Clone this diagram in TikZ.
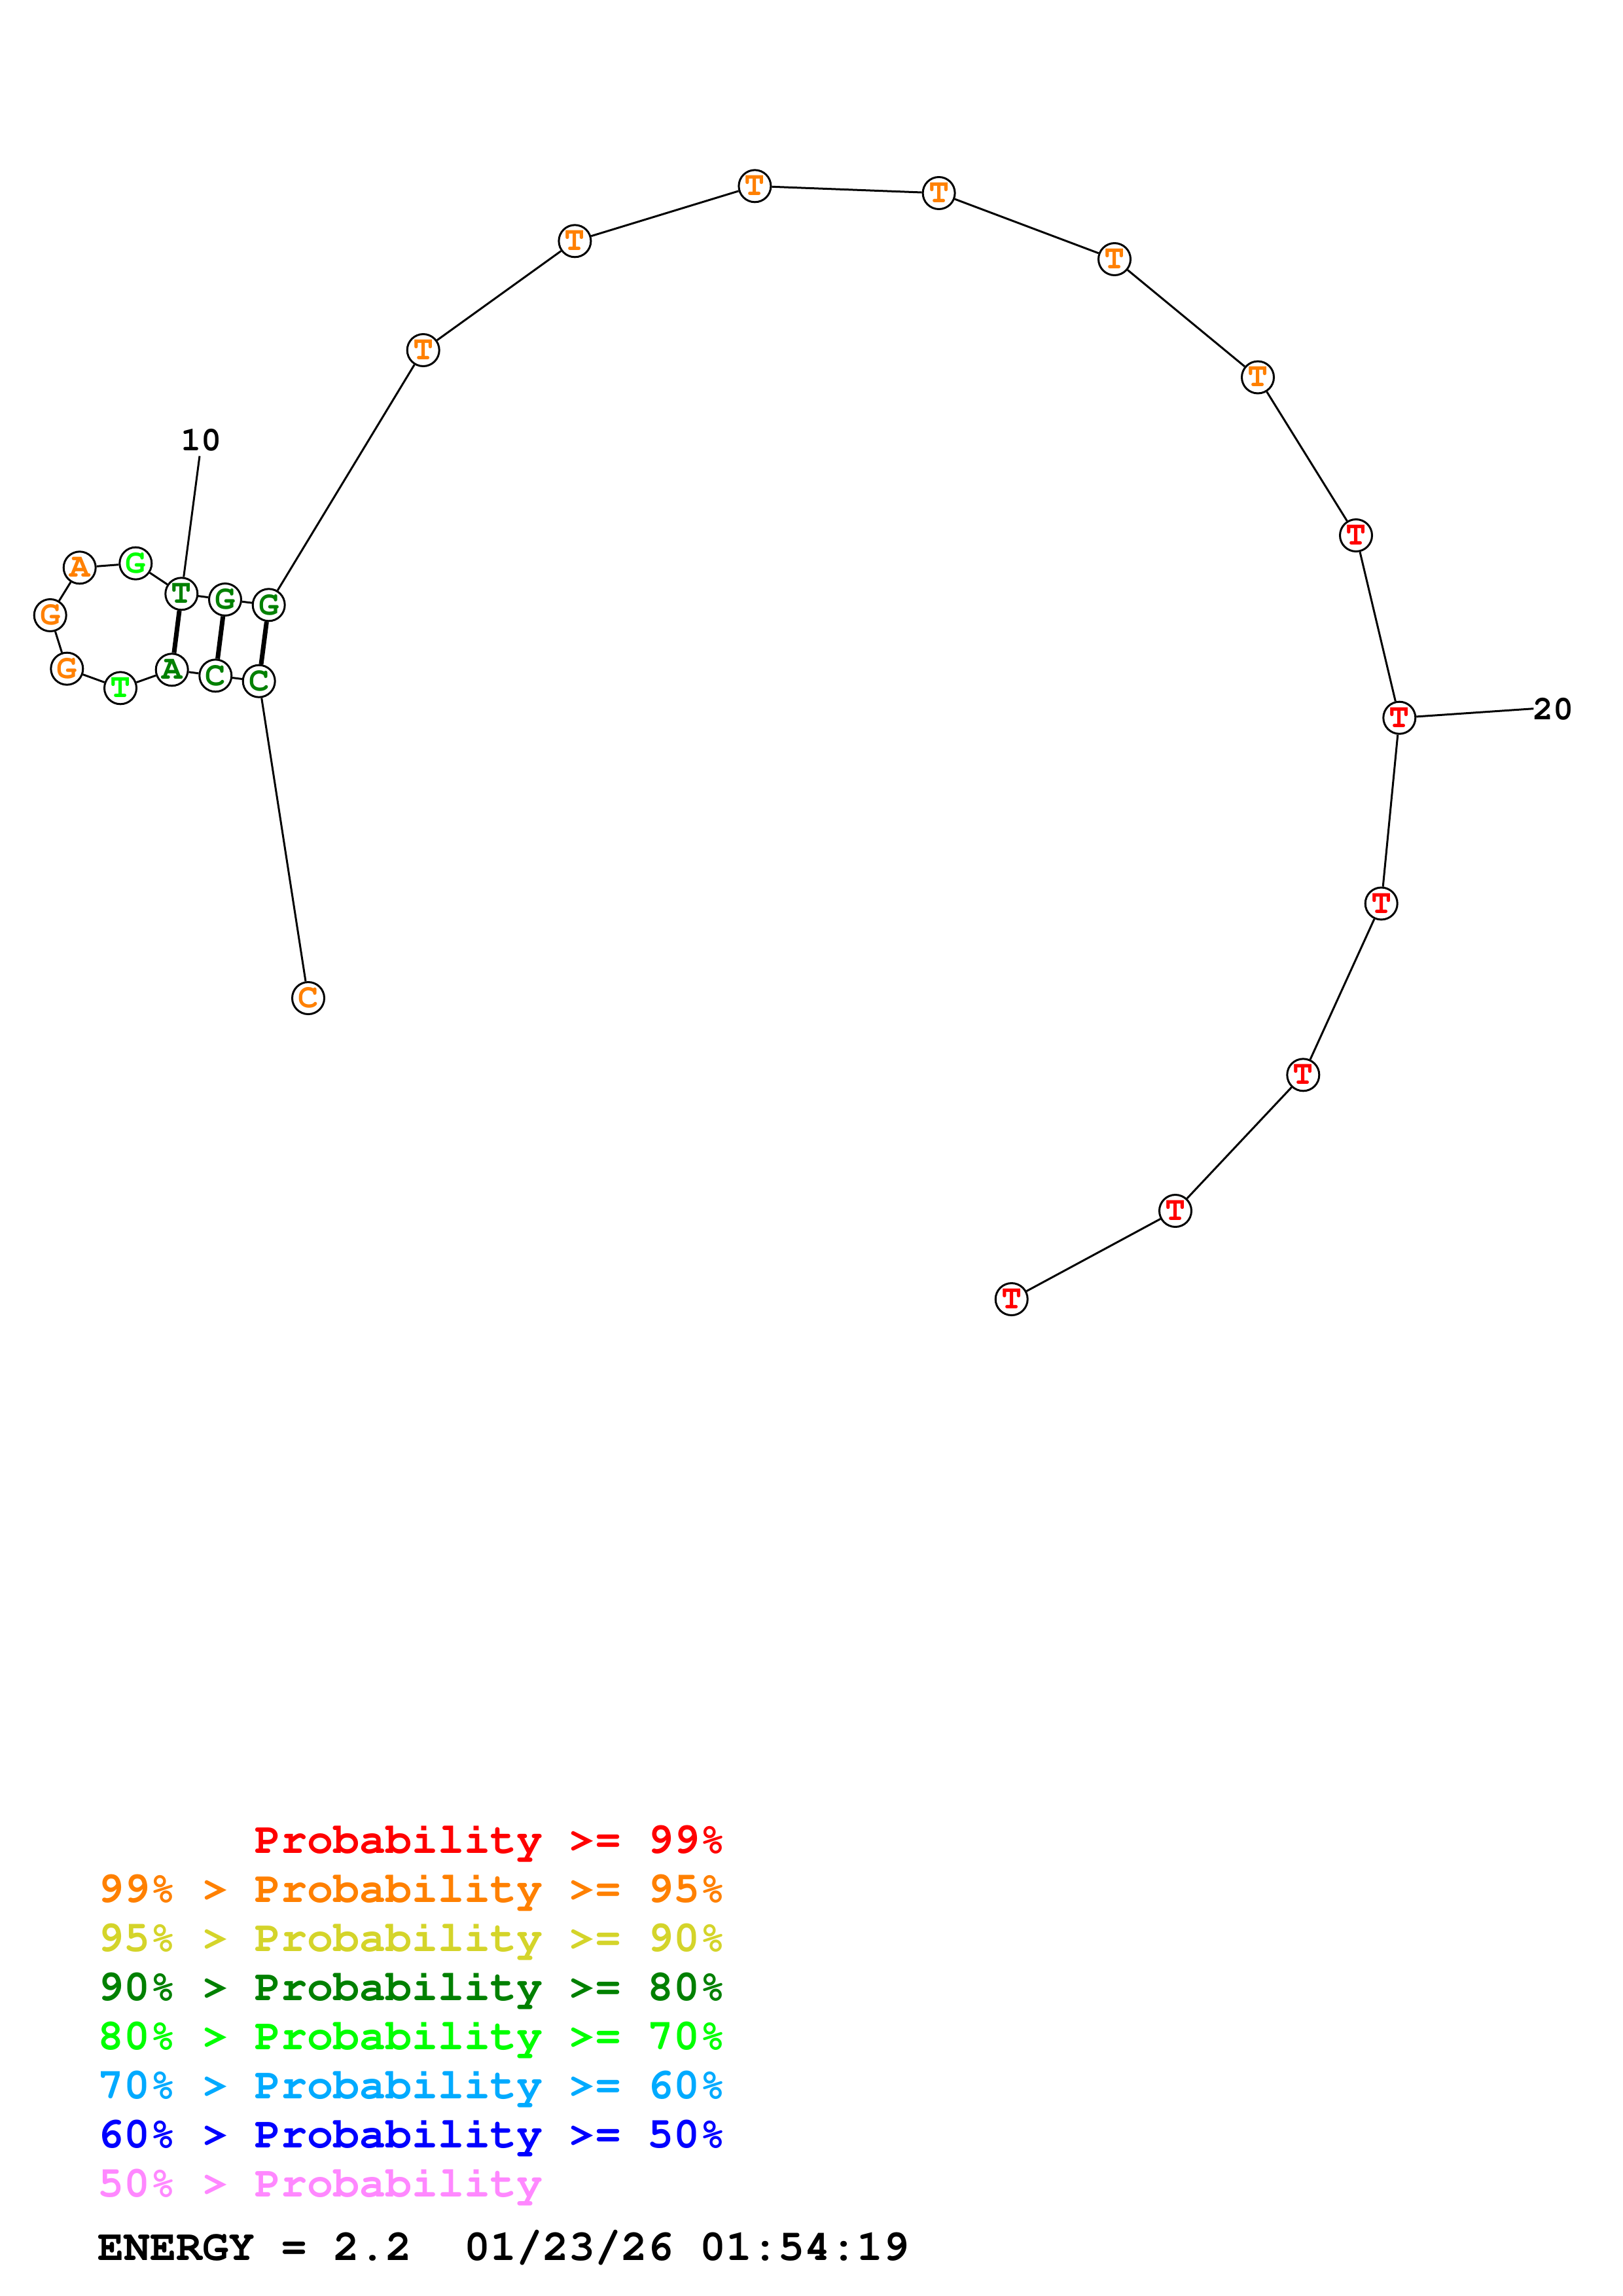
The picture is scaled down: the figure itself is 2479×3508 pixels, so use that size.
\documentclass[tikz,border=0pt]{standalone}
\usepackage[T1]{fontenc}
\newcommand{\crb}{\fontencoding{T1}\fontfamily{pcr}\bfseries}
\newcommand{\nucfont}{\crb\fontsize{52}{52}\selectfont}
\newcommand{\numfont}{\crb\fontsize{52}{52}\selectfont}
\newcommand{\legfont}{\crb\fontsize{66.7}{66.7}\selectfont}
\definecolor{pred}{RGB}{255,0,0}
\definecolor{porange}{RGB}{255,128,0}
\definecolor{pyellow}{RGB}{212,212,42}
\definecolor{pdkgreen}{RGB}{0,128,0}
\definecolor{pgreen}{RGB}{0,255,0}
\definecolor{pcyan}{RGB}{0,170,255}
\definecolor{pblue}{RGB}{0,0,255}
\definecolor{ppink}{RGB}{255,136,255}

\begin{document}
\begin{tikzpicture}[x=1pt,y=-1pt,
    nuc/.style={circle,draw,fill=white,line width=3pt,minimum size=49pt,inner sep=0pt,font=\nucfont},
    backbone/.style={line width=3pt},
    bpair/.style={line width=7pt},
    numlab/.style={inner sep=0pt,font=\numfont},
    leg/.style={anchor=base west,inner sep=0pt,font=\legfont}]

          \useasboundingbox (0,0) rectangle (2479,3508);

          % nucleotides
          \node[nuc,text=porange]  (n1)  at (471.0,1525.0) {C};
          \node[nuc,text=pdkgreen] (n2)  at (395.7,1040.7) {C};
          \node[nuc,text=pdkgreen] (n3)  at (329.3,1032.3) {C};
          \node[nuc,text=pdkgreen] (n4)  at (262.7,1023.3) {A};
          \node[nuc,text=pgreen]   (n5)  at (184.0,1051.3) {T};
          \node[nuc,text=porange]  (n6)  at (102.3,1021.7) {G};
          \node[nuc,text=porange]  (n7)  at (76.7,940.0) {G};
          \node[nuc,text=porange]  (n8)  at (121.7,867.3) {A};
          \node[nuc,text=pgreen]   (n9)  at (207.3,860.7) {G};
          \node[nuc,text=pdkgreen] (n10) at (277.3,907.3) {T};
          \node[nuc,text=pdkgreen] (n11) at (344.0,916.0) {G};
          \node[nuc,text=pdkgreen] (n12) at (410.7,924.3) {G};
          \node[nuc,text=porange]  (n13) at (646.7,535.0) {T};
          \node[nuc,text=porange]  (n14) at (878.4,368.3) {T};
          \node[nuc,text=porange]  (n15) at (1153.4,284.3) {T};
          \node[nuc,text=porange]  (n16) at (1434.6,295.0) {T};
          \node[nuc,text=porange]  (n17) at (1703.0,396.0) {T};
          \node[nuc,text=porange]  (n18) at (1922.0,576.5) {T};
          \node[nuc,text=pred]     (n19) at (2072.0,818.0) {T};
          \node[nuc,text=pred]     (n20) at (2138.3,1096.7) {T};
          \node[nuc,text=pred]     (n21) at (2110.7,1380.5) {T};
          \node[nuc,text=pred]     (n22) at (1991.3,1642.3) {T};
          \node[nuc,text=pred]     (n23) at (1796.0,1850.0) {T};
          \node[nuc,text=pred]     (n24) at (1545.7,1985.0) {T};

          % position labels
          \node[numlab] (lab10) at (307.2,672.8) {10};
          \node[numlab] (lab20) at (2373.8,1083.5) {20};
          \coordinate (t10) at (305.0,696.7);
          \coordinate (t20) at (2343.3,1082.7);

          \draw[backbone] (n1) -- (n2);
          \draw[backbone] (n2) -- (n3);
          \draw[backbone] (n3) -- (n4);
          \draw[backbone] (n4) -- (n5);
          \draw[backbone] (n5) -- (n6);
          \draw[backbone] (n6) -- (n7);
          \draw[backbone] (n7) -- (n8);
          \draw[backbone] (n8) -- (n9);
          \draw[backbone] (n9) -- (n10);
          \draw[backbone] (n10) -- (n11);
          \draw[backbone] (n11) -- (n12);
          \draw[backbone] (n12) -- (n13);
          \draw[backbone] (n13) -- (n14);
          \draw[backbone] (n14) -- (n15);
          \draw[backbone] (n15) -- (n16);
          \draw[backbone] (n16) -- (n17);
          \draw[backbone] (n17) -- (n18);
          \draw[backbone] (n18) -- (n19);
          \draw[backbone] (n19) -- (n20);
          \draw[backbone] (n20) -- (n21);
          \draw[backbone] (n21) -- (n22);
          \draw[backbone] (n22) -- (n23);
          \draw[backbone] (n23) -- (n24);
          \draw[backbone] (n10) -- (t10);
          \draw[backbone] (n20) -- (t20);

          % base pairs
          \draw[bpair] (n2) -- (n12);
          \draw[bpair] (n3) -- (n11);
          \draw[bpair] (n4) -- (n10);

          % legend
          \node[leg,text=pred]     (l1) at (149,2831.7) {~~~~~~Probability~>=~99\%};
          \node[leg,text=porange]  (l2) at (149,2906.7) {99\%~>~Probability~>=~95\%};
          \node[leg,text=pyellow]  (l3) at (149,2981.7) {95\%~>~Probability~>=~90\%};
          \node[leg,text=pdkgreen] (l4) at (149,3056.7) {90\%~>~Probability~>=~80\%};
          \node[leg,text=pgreen]   (l5) at (149,3131.7) {80\%~>~Probability~>=~70\%};
          \node[leg,text=pcyan]    (l6) at (149,3206.7) {70\%~>~Probability~>=~60\%};
          \node[leg,text=pblue]    (l7) at (149,3281.7) {60\%~>~Probability~>=~50\%};
          \node[leg,text=ppink]    (l8) at (149,3356.7) {50\%~>~Probability};
          \node[leg]               (en) at (149,3453.3) {ENERGY~=~2.2~~01/23/26~01:54:19};
\end{tikzpicture}
\end{document}
